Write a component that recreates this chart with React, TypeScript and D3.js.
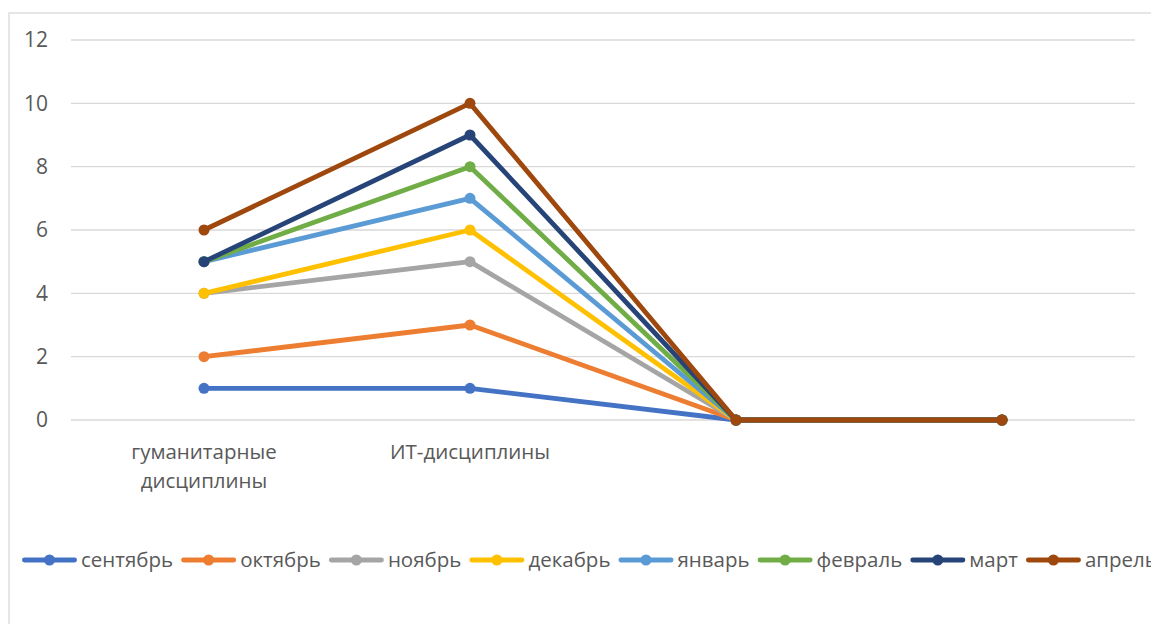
import React, { useEffect, useRef } from "react";
import * as d3 from "d3";

// categories on the x axis (the last two have no label)
const categories = ["гуманитарные\nдисциплины", "ИТ-дисциплины", "", " "];
const months = ["сентябрь", "октябрь", "ноябрь", "декабрь", "январь", "февраль", "март", "апрель"];
const colors = ["#4472C4", "#ED7D31", "#A5A5A5", "#FFC000", "#5B9BD5", "#70AD47", "#264478", "#9E480E"];

const sep = [1, 1, 0, 0];
const oct = [2, 3, 0, 0];
const nov = [4, 5, 0, 0];
const dec = [4, 6, 0, 0];
const jan = [5, 7, 0, 0];
const feb = [5, 8, 0, 0];
const mar = [5, 9, 0, 0];
const apr = [6, 10, 0, 0];
const series = [sep, oct, nov, dec, jan, feb, mar, apr];

const yTicks = [0, 2, 4, 6, 8, 10, 12];

const FONT = "'Open Sans', sans-serif";

const App: React.FC = () => {
  const ref = useRef<SVGSVGElement>(null);

  useEffect(() => {
    const width = 1151,
      height = 624;
    const svg = d3.select(ref.current);
    svg.selectAll("*").remove();

    // chart frame (runs past the right and bottom edges)
    svg
      .append("rect")
      .attr("x", 9)
      .attr("y", 13)
      .attr("width", width + 20)
      .attr("height", height + 20)
      .attr("fill", "#fff")
      .attr("stroke", "#d9d9d9")
      .attr("stroke-width", 1.3);

    const x = d3.scaleBand().domain(categories).range([71, 1135]);
    const y = d3.scaleLinear().domain([0, 12]).range([420, 40]);

    // gridlines + tick labels
    const grid = svg.append("g");
    yTicks.forEach((t) => {
      grid
        .append("line")
        .attr("x1", 71)
        .attr("x2", 1135)
        .attr("y1", y(t))
        .attr("y2", y(t))
        .attr("stroke", "#d9d9d9")
        .attr("stroke-width", 1.3);
      grid
        .append("text")
        .attr("x", 48)
        .attr("y", y(t))
        .attr("dy", "0.35em")
        .attr("text-anchor", "end")
        .style("font-family", FONT)
        .style("font-size", "21px")
        .attr("fill", "#595959")
        .text(t);
    });

    // category labels
    categories.forEach((c) => {
      const cx = x(c)! + x.bandwidth() / 2;
      c.trim()
        .split("\n")
        .forEach((line, i) => {
          if (!line) return;
          svg
            .append("text")
            .attr("x", cx)
            .attr("y", 452 + i * 29)
            .attr("dy", "0.35em")
            .attr("text-anchor", "middle")
            .style("font-family", FONT)
            .style("font-size", "20.5px")
            .attr("fill", "#595959")
            .text(line);
        });
    });

    // lines and markers
    const line = d3
      .line<number>()
      .x((_, i) => x(categories[i])! + x.bandwidth() / 2)
      .y((d) => y(d));

    series.forEach((vals, s) => {
      const g = svg.append("g");
      g.append("path")
        .attr("d", line(vals))
        .attr("fill", "none")
        .attr("stroke", colors[s])
        .attr("stroke-width", 4.8)
        .attr("stroke-linejoin", "round");
      g.selectAll("circle")
        .data(vals)
        .enter()
        .append("circle")
        .attr("cx", (_, i) => x(categories[i])! + x.bandwidth() / 2)
        .attr("cy", (d) => y(d))
        .attr("r", 5.5)
        .attr("fill", colors[s]);
    });

    // legend (runs past the right edge, as in the original)
    let lx = 22;
    const ly = 560;
    months.forEach((m, s) => {
      const g = svg.append("g");
      g.append("line")
        .attr("x1", lx + 2.4)
        .attr("x2", lx + 52.6)
        .attr("y1", ly)
        .attr("y2", ly)
        .attr("stroke", colors[s])
        .attr("stroke-width", 4.8)
        .attr("stroke-linecap", "round");
      g.append("circle")
        .attr("cx", lx + 27.5)
        .attr("cy", ly)
        .attr("r", 5.5)
        .attr("fill", colors[s]);
      const txt = g
        .append("text")
        .attr("x", lx + 59)
        .attr("y", ly)
        .attr("dy", "0.35em")
        .style("font-family", FONT)
        .style("font-size", "20.5px")
        .attr("fill", "#595959")
        .text(m);
      const w = (txt.node() as SVGTextElement).getComputedTextLength();
      lx += 59 + w + 8;
    });
  }, []);

  return (
    <div style={{ position: "absolute", left: 0, top: 0, width: 1151, height: 624, overflow: "hidden" }}>
      <svg ref={ref} width={1151} height={624} />
    </div>
  );
};

export default App;
